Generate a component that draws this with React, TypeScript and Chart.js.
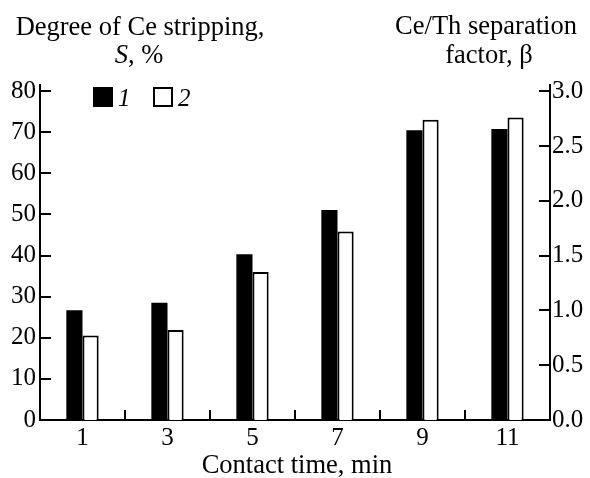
import React, { useEffect, useRef } from "react";
import { Chart, registerables } from "chart.js";

Chart.register(...registerables);

// Contact time, min
const contactTimes = ["1", "3", "5", "7", "9", "11"];
// Degree of Ce stripping S, % (left axis)
const strippingDegree = [26.7, 28.5, 40.3, 51.1, 70.5, 70.8];
// Ce/Th separation factor β (right axis)
const separationFactor = [0.77, 0.82, 1.35, 1.72, 2.74, 2.76];

const leftMax = 81.5;
const rightMax = (3.0 * leftMax) / 80;

const FONT = "'Liberation Serif', 'Times New Roman', serif";
const TICK_SIZE = 25;
const TITLE_SIZE = 26.5;

const decorPlugin = {
  id: "decor",
  afterDraw(chart: any) {
    const { ctx, chartArea } = chart;
    const { left, right, bottom } = chartArea;
    const yL = chart.scales.y;
    const yR = chart.scales.y1;
    const x = chart.scales.x;
    ctx.save();
    ctx.strokeStyle = "#000";
    ctx.lineWidth = 2;
    ctx.beginPath();
    // inward ticks on the left axis
    yL.ticks.forEach((t: any) => {
      if (t.value === 0) return;
      const py = Math.round(yL.getPixelForValue(t.value));
      ctx.moveTo(left, py);
      ctx.lineTo(left + 11, py);
    });
    // inward ticks on the right axis
    yR.ticks.forEach((t: any) => {
      if (t.value === 0) return;
      const py = Math.round(yR.getPixelForValue(t.value));
      ctx.moveTo(right - 11, py);
      ctx.lineTo(right, py);
    });
    // ticks between categories on the x axis
    for (let i = 0; i < contactTimes.length - 1; i++) {
      const px = Math.round((x.getPixelForValue(i) + x.getPixelForValue(i + 1)) / 2);
      ctx.moveTo(px, bottom);
      ctx.lineTo(px, bottom - 10);
    }
    ctx.stroke();

    // legend
    const ds = chart.data.datasets;
    ctx.textBaseline = "alphabetic";
    ctx.font = `italic ${TICK_SIZE}px ${FONT}`;
    ctx.textAlign = "left";
    const items = [
      { x: 93, label: "1", ds: ds[0] },
      { x: 153, label: "2", ds: ds[1] },
    ];
    items.forEach((it) => {
      ctx.fillStyle = it.ds.backgroundColor;
      ctx.fillRect(it.x, 87, 20, 20);
      if (it.ds.borderWidth) {
        ctx.lineWidth = 2;
        ctx.strokeStyle = it.ds.borderColor;
        ctx.strokeRect(it.x + 1, 88, 18, 18);
      }
      ctx.fillStyle = "#000";
      ctx.fillText(it.label, it.x + 25, 106);
    });

    // axis titles
    ctx.fillStyle = "#000";
    ctx.textAlign = "center";
    ctx.font = `${TITLE_SIZE}px ${FONT}`;
    ctx.fillText("Degree of Ce stripping,", 140, 35);
    ctx.font = `italic ${TITLE_SIZE}px ${FONT}`;
    const sW = ctx.measureText("S").width;
    ctx.font = `${TITLE_SIZE}px ${FONT}`;
    const restW = ctx.measureText(", %").width;
    const startX = 139 - (sW + restW) / 2;
    ctx.textAlign = "left";
    ctx.font = `italic ${TITLE_SIZE}px ${FONT}`;
    ctx.fillText("S", startX, 63);
    ctx.font = `${TITLE_SIZE}px ${FONT}`;
    ctx.fillText(", %", startX + sW, 63);

    ctx.textAlign = "center";
    ctx.fillText("Ce/Th separation", 486, 34);
    ctx.fillText("factor, β", 489, 63);
    ctx.fillText("Contact time, min", 297, 473);
    ctx.restore();
  },
};

export default function App() {
  const canvasRef = useRef<HTMLCanvasElement | null>(null);

  useEffect(() => {
    if (!canvasRef.current) return;
    const chart = new Chart(canvasRef.current, {
      type: "bar",
      data: {
        labels: contactTimes,
        datasets: [
          {
            label: "1",
            data: strippingDegree,
            yAxisID: "y",
            backgroundColor: "#000",
            borderWidth: 0,
            categoryPercentage: 0.38,
            barPercentage: 1.0,
          },
          {
            label: "2",
            data: separationFactor,
            yAxisID: "y1",
            backgroundColor: "#fff",
            borderColor: "#000",
            borderWidth: 2,
            categoryPercentage: 0.38,
            barPercentage: 1.0,
          },
        ],
      },
      options: {
        animation: false,
        responsive: false,
        maintainAspectRatio: false,
        layout: { padding: { top: 85, left: 0, right: 0, bottom: 0 } },
        plugins: {
          legend: { display: false },
          tooltip: { enabled: false },
        },
        scales: {
          x: {
            grid: { display: false, drawTicks: false },
            border: { display: true, color: "#000", width: 2 },
            ticks: {
              color: "#000",
              font: { family: FONT, size: TICK_SIZE },
              padding: 3,
              maxRotation: 0,
            },
            afterFit(scale: any) {
              scale.height = 58;
            },
          },
          y: {
            position: "left",
            min: 0,
            max: leftMax,
            grid: { display: false, drawTicks: false },
            border: { display: true, color: "#000", width: 2 },
            ticks: {
              stepSize: 10,
              includeBounds: false,
              color: "#000",
              font: { family: FONT, size: TICK_SIZE },
              padding: 4,
            },
            afterFit(scale: any) {
              scale.width = 40;
            },
          },
          y1: {
            position: "right",
            min: 0,
            max: rightMax,
            grid: { display: false, drawTicks: false },
            border: { display: true, color: "#000", width: 2 },
            ticks: {
              stepSize: 0.5,
              includeBounds: false,
              color: "#000",
              font: { family: FONT, size: TICK_SIZE },
              padding: 2,
              callback: (v: any) => Number(v).toFixed(1),
            },
            afterFit(scale: any) {
              scale.width = 40;
            },
          },
        },
      },
      plugins: [decorPlugin],
    });
    return () => chart.destroy();
  }, []);

  return (
    <div style={{ position: "fixed", left: 0, top: 0, width: 590, height: 478, background: "#fff" }}>
      <canvas ref={canvasRef} width={590} height={478} style={{ width: 590, height: 478 }} />
    </div>
  );
}
